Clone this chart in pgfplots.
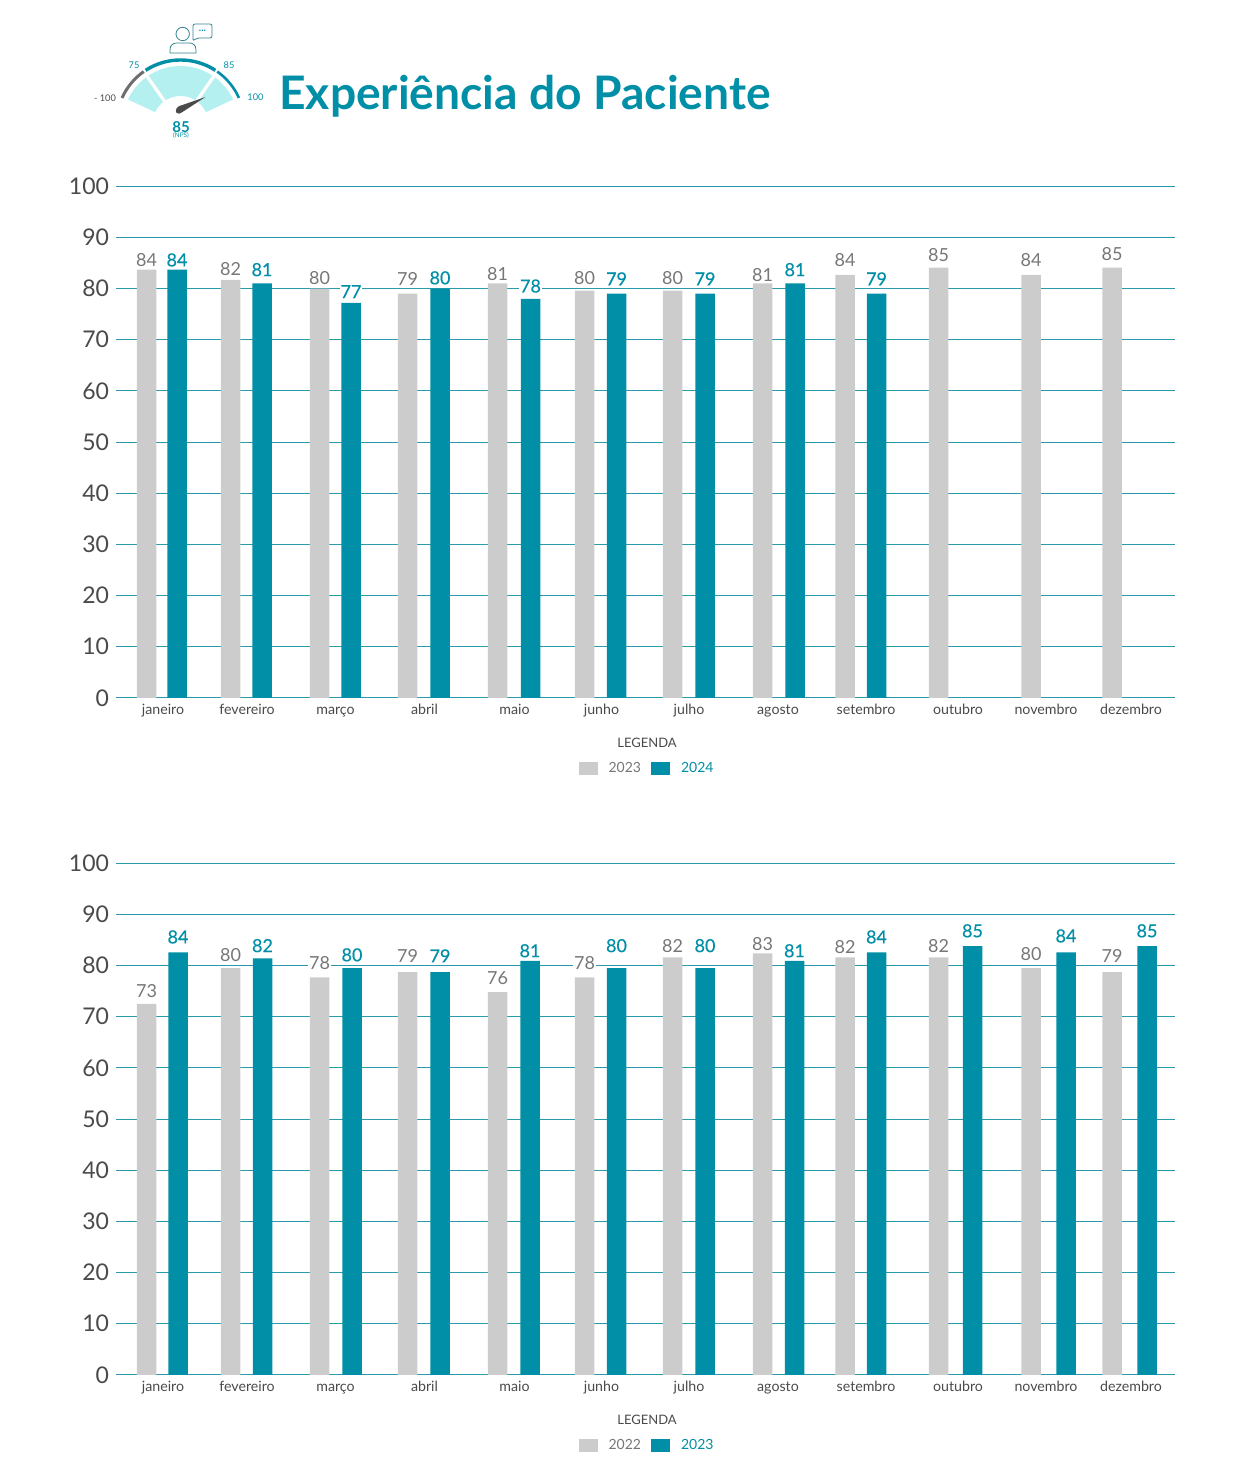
\documentclass[border=0pt]{standalone}
\usepackage{fontspec}
\setmainfont{Lato}
\newfontfamily\medio[FakeBold=0.4]{Lato}
\usepackage{pgfplots}
\usepackage{pgfplotstable}
\pgfplotsset{compat=1.18}

\definecolor{teal1}{HTML}{008FA6}
\definecolor{grid1}{HTML}{2A9BAD}
\definecolor{light1}{HTML}{CCCCCC}
\definecolor{lab1}{HTML}{777777}
\definecolor{dark1}{HTML}{4A4A4A}
\definecolor{aqua1}{HTML}{B5F0F0}

% x = pixel centre of the bar, y = bar height, ly = height of the label, l = printed label
\pgfplotstableread{
x y ly l
146.5 83.7 85.6 84
230.5 81.7 83.9 82
319.5 80.0 82.1 80
407.5 79.0 81.9 79
497.5 81.0 82.9 81
584.5 79.6 82.1 80
672.5 79.6 82.1 80
762.5 81.0 82.7 81
845.0 82.7 85.6 84
938.5 84.1 86.6 85
1031.0 82.7 85.6 84
1112.0 84.1 86.8 85
}\topgray
\pgfplotstableread{
x y ly l
177.0 83.7 85.6 84
262.0 81.0 83.7 81
351.0 77.2 79.4 77
440.0 80.0 82.1 80
530.5 78.0 80.5 78
616.5 79.0 81.9 79
705.0 79.0 81.9 79
795.0 81.0 83.7 81
876.5 79.0 81.9 79
}\topteal
\pgfplotstableread{
x y ly l
146.5 72.5 75.1 73
230.5 79.5 82.1 80
319.5 77.7 80.4 78
407.5 78.7 81.9 79
497.5 74.8 77.6 76
584.5 77.7 80.4 78
672.5 81.6 83.9 82
762.5 82.4 84.3 83
845.0 81.6 83.7 82
938.5 81.6 83.9 82
1031.0 79.5 82.3 80
1112.0 78.7 81.9 79
}\lowgray
\pgfplotstableread{
x y ly l
178.0 82.6 85.6 84
262.5 81.4 83.9 82
352.0 79.5 82.1 80
440.0 78.7 81.9 79
530.0 80.9 82.9 81
616.5 79.5 83.9 80
705.0 79.5 83.9 80
794.5 80.9 82.9 81
876.5 82.6 85.6 84
972.5 83.8 86.8 85
1066.0 82.6 85.8 84
1147.0 83.8 86.8 85
}\lowteal

\pgfplotsset{
  painel/.style={
    scale only axis, width=529.5pt, height=255.75pt,
    xmin=116, xmax=1175, ymin=0, ymax=100,
    ybar, bar width=9.75pt, bar shift=0pt,
    ytick={0,10,...,100},
    xtick={163,247,335.5,424.5,514.5,601.5,689,778,866,958,1046,1131},
    xticklabels={janeiro,fevereiro,março,abril,maio,junho,julho,agosto,setembro,outubro,novembro,dezembro},
    ymajorgrids, grid style={grid1,line width=0.5pt},
    axis line style={draw=none}, tick style={draw=none},
    major tick length=0pt,
    /pgf/number format/assume math mode=true,
    yticklabel style={font=\fontsize{11.5}{12}\selectfont,text=dark1},
    xticklabel style={font=\fontsize{7.1}{8}\selectfont,text=dark1,text height=5pt,text depth=1.5pt,yshift=0.4pt},
    legend image code/.code={\fill[##1,draw=none] (0pt,-3.25pt) rectangle (9.5pt,3.25pt);},
    legend columns=2,
    legend style={draw=none,fill=none,at={(0.5024,-0.139)},anchor=center,
      font=\fontsize{7}{8}\selectfont,
      /tikz/every even column/.append style={column sep=3pt},
      /tikz/every odd column/.append style={column sep=3.5pt}},
  },
  cinza/.style={fill=light1,draw=none},
  verde/.style={fill=teal1,draw=none},
  rotulo/.style={draw=none,fill=none,forget plot,
    nodes near coords, point meta=explicit symbolic,
    every node near coord/.append style={anchor=center,fill=white,inner sep=0.3pt,font=\fontsize{9}{10}\selectfont}},
  rotulocinza/.style={rotulo,every node near coord/.append style={text=lab1}},
  rotuloverde/.style={rotulo,every node near coord/.append style={text=teal1,font=\medio\fontsize{9}{10}\selectfont}},
}

\begin{document}
\begin{tikzpicture}[x=0.5pt,y=0.5pt]
\path (0,0) rectangle (1240,1478);

% logo
\begin{scope}[shift={(180.5,1354)}]
  \fill[aqua1] (25:58) arc (25:155:58) -- (155:28) arc (155:25:28) -- cycle;
  \draw[white,line width=1.6pt] (125:25) -- (125:60);
  \draw[white,line width=1.6pt] (55:25) -- (55:60);
  \draw[dark1!80,line width=1.5pt] (156:64) arc (156:125:64);
  \draw[teal1,line width=1.7pt] (123:64) arc (123:57:64);
  \draw[teal1,line width=1.3pt] (55:64) arc (55:24:64);
  \fill[dark1] (-4,11) .. controls (-6,15) and (-3,18) .. (2,19) -- (25,27) -- (2,12) .. controls (0,10) and (-2,10) .. (-4,11) -- cycle;
\end{scope}
\draw[teal1!70!black!80,line width=0.4pt] (182.7,1444) circle (6.7);
\draw[teal1!70!black!80,line width=0.4pt] (170,1425) -- (170,1428) .. controls (170,1433) and (173,1435) .. (177,1435) -- (189,1435) .. controls (193,1435) and (196,1433) .. (196,1428) -- (196,1425) -- cycle;
\draw[teal1!70!black!80,line width=0.4pt,rounded corners=1pt] (193,1440) -- (193,1454) -- (212,1454) -- (212,1440) -- (197,1440) -- (193,1437) -- cycle;
\node[text=teal1,font=\bfseries\fontsize{5}{5}\selectfont] at (202.5,1447) {...};
\begin{scope}[font=\fontsize{4.6}{5}\selectfont,inner sep=0pt]
  \node[text=teal1] at (134,1413) {75};
  \node[text=teal1] at (229,1413) {85};
  \node[text=dark1] at (105,1380) {- 100};
  \node[text=teal1] at (255.5,1381) {100};
  \node[text=teal1,font=\bfseries\fontsize{7.5}{8}\selectfont] at (181,1351) {85};
  \node[text=teal1,font=\fontsize{3.2}{3}\selectfont] at (181,1342) {(NPS)};
\end{scope}
\node[anchor=west,inner sep=0pt,text=teal1,font=\bfseries\fontsize{23.1}{26}\selectfont] at (279,1382) {Experiência do Paciente};

% 2023 x 2024
\begin{axis}[painel,at={(58pt,390.1pt)},anchor=origin]
\addplot[cinza] table[x=x,y=y] {\topgray};
\addlegendentry{\textcolor{lab1}{2023}}
\addplot[verde] table[x=x,y=y] {\topteal};
\addlegendentry{\textcolor{teal1}{2024}}
\addplot[rotulocinza] table[x=x,y=ly,meta=l] {\topgray};
\addplot[rotuloverde] table[x=x,y=ly,meta=l] {\topteal};
\end{axis}
\node[font=\fontsize{6.5}{8}\selectfont,text=dark1] at (647,735.5) {LEGENDA};

% 2022 x 2023
\begin{axis}[painel,at={(58pt,51.6pt)},anchor=origin]
\addplot[cinza] table[x=x,y=y] {\lowgray};
\addlegendentry{\textcolor{lab1}{2022}}
\addplot[verde] table[x=x,y=y] {\lowteal};
\addlegendentry{\textcolor{teal1}{2023}}
\addplot[rotulocinza] table[x=x,y=ly,meta=l] {\lowgray};
\addplot[rotuloverde] table[x=x,y=ly,meta=l] {\lowteal};
\end{axis}
\node[font=\fontsize{6.5}{8}\selectfont,text=dark1] at (647,58.5) {LEGENDA};
\end{tikzpicture}
\end{document}
